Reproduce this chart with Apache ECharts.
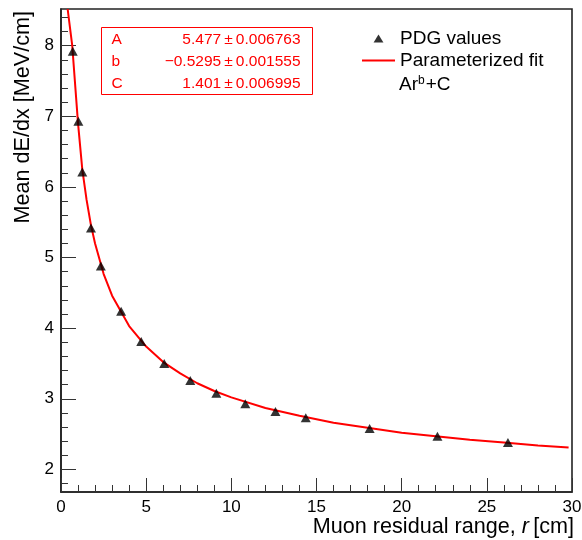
<!DOCTYPE html>
<html>
<head>
<meta charset="utf-8">
<script src="https://cdn.jsdelivr.net/npm/echarts@6/dist/echarts.min.js"></script>
<style>
html,body{margin:0;padding:0;background:#fff;}
#chart{width:582px;height:540px;}
</style>
</head>
<body>
<div id="chart"></div>
<script>
// ---- data ----
const rangeCm = [0.69, 1.02, 1.25, 1.76, 2.34, 3.53, 4.71, 6.06, 7.59, 9.12, 10.82, 12.59, 14.37, 18.12, 22.10, 26.24];
const dedxPDG = [7.92, 6.93, 6.21, 5.42, 4.88, 4.24, 3.81, 3.50, 3.26, 3.08, 2.93, 2.82, 2.73, 2.58, 2.47, 2.38];

const fitR = [0.39, 0.66, 1.0, 1.25, 1.5, 1.75, 2.0, 2.5, 3.0, 4.0, 5.0, 6.0, 7.0, 8.0, 9.0, 10.0, 12.0, 14.0, 16.0, 18.0, 20.0, 22.0, 24.0, 26.0, 28.0, 29.8];
const fitY = [8.52, 8.00, 6.90, 6.25, 5.82, 5.47, 5.20, 4.77, 4.46, 4.03, 3.74, 3.52, 3.36, 3.22, 3.11, 3.02, 2.87, 2.76, 2.66, 2.59, 2.52, 2.47, 2.42, 2.38, 2.34, 2.31];

const xTicks = [0, 5, 10, 15, 20, 25, 30];
const yTicks = [2, 3, 4, 5, 6, 7, 8];

const parNames = ['A', 'b', 'C'];
const parValues = ['5.477', '\u22120.5295', '1.401'];
const parErrors = ['0.006763', '0.001555', '0.006995'];

const seriesNames = ['PDG values', 'Parameterized fit'];

// ---- chart ----
const FONT = '"Liberation Sans", Arial, Helvetica, sans-serif';
const yMin = 1.68, yMax = 8.52;
const yMinor = [];
for (let k = Math.ceil(yMin * 5); k <= Math.floor(yMax * 5); k++) {
  if (k % 5 !== 0) yMinor.push(k / 5);
}

const scatterData = rangeCm.map((r, i) => [r, dedxPDG[i]]);
const fitData = fitR.map((r, i) => [r, fitY[i]]);

const statGraphics = [];
statGraphics.push({
  type: 'rect', z: 100,
  shape: {x: 101.5, y: 27.5, width: 211, height: 67},
  style: {fill: '#fff', stroke: '#ff0000', lineWidth: 1}
});
parNames.forEach((n, i) => {
  const yy = 39.5 + 22.2 * i;
  statGraphics.push({
    type: 'text', z: 101, x: 111.5, y: yy,
    style: {text: n, font: '15.5px ' + FONT, fill: '#ff0000',
      align: 'left', verticalAlign: 'middle', textAlign: 'left', textVerticalAlign: 'middle'}
  });
  statGraphics.push({
    type: 'text', z: 101, x: 300.5, y: yy,
    style: {text: parValues[i] + '\u2009\u00b1\u2009' + parErrors[i], font: '15.5px ' + FONT, fill: '#ff0000',
      align: 'right', verticalAlign: 'middle', textAlign: 'right', textVerticalAlign: 'middle'}
  });
});

const chart = echarts.init(document.getElementById('chart'), null, {renderer: 'canvas'});
chart.setOption({
  backgroundColor: '#fff',
  animation: false,
  grid: {left: 61, right: 10, top: 9, bottom: 48, containLabel: false, outerBoundsMode: 'none',
    show: true, borderColor: '#222', borderWidth: 1.6, backgroundColor: 'transparent'},
  xAxis: {
    type: 'value', min: 0, max: 30, interval: 5,
    axisLine: {onZero: false, lineStyle: {color: '#222', width: 1.6}},
    axisTick: {inside: true, length: 14, lineStyle: {color: '#333', width: 1}},
    minorTick: {show: true, splitNumber: 5, length: 7, lineStyle: {color: '#333', width: 1}},
    axisLabel: {fontSize: 17, fontFamily: FONT, color: '#000', margin: 7,
      formatter: v => (xTicks.indexOf(v) >= 0 ? String(v) : '')},
    splitLine: {show: false}
  },
  yAxis: [{
    type: 'value', min: yMin, max: yMax, position: 'left',
    axisLine: {onZero: false, lineStyle: {color: '#222', width: 1.6}},
    axisTick: {inside: true, length: 15, customValues: yTicks, lineStyle: {color: '#333', width: 1}},
    axisLabel: {fontSize: 17, fontFamily: FONT, color: '#000', margin: 7, customValues: yTicks},
    splitLine: {show: false}
  }, {
    type: 'value', min: yMin, max: yMax, position: 'left', offset: 0,
    axisLine: {show: false, onZero: false},
    axisTick: {inside: true, length: 7, customValues: yMinor, lineStyle: {color: '#333', width: 1}},
    axisLabel: {show: false},
    splitLine: {show: false}
  }],
  legend: {
    orient: 'vertical', left: 357, top: 24,
    itemWidth: 33, itemHeight: 8, itemGap: 3, itemTextGap: 9, selectedMode: false,
    symbolKeepAspect: true,
    textStyle: {fontSize: 19, fontFamily: FONT, color: '#000'},
    data: [
      {name: seriesNames[0], icon: 'path://M0,13 L8,0 L16,13 Z', itemStyle: {color: '#000'}},
      {name: seriesNames[1], icon: 'path://M0,0 L66,0 L66,4 L0,4 Z', itemStyle: {color: '#ff0000'}}
    ]
  },
  graphic: [{
    type: 'text', x: 23.5, y: 11, rotation: Math.PI / 2,
    style: {text: 'Mean dE/dx [MeV/cm]', font: '21.6px ' + FONT, fill: '#000',
      align: 'right', verticalAlign: 'middle', textAlign: 'right', textVerticalAlign: 'middle'}
  }, {
    type: 'text', x: 574, y: 527,
    style: {text: '{n|Muon residual range, }{i|r}{n|\u2009[cm]}', fill: '#000',
      align: 'right', verticalAlign: 'middle', textAlign: 'right', textVerticalAlign: 'middle',
      rich: {n: {fontSize: 21.6, fontFamily: FONT, color: '#000'},
             i: {fontSize: 21.6, fontFamily: FONT, color: '#000', fontStyle: 'italic'}}}
  }, {
    type: 'text', x: 399, y: 85,
    style: {text: '{n|Ar}{s|b}{n|+C}', fill: '#000', verticalAlign: 'middle', textVerticalAlign: 'middle',
      rich: {n: {fontSize: 19, fontFamily: FONT, color: '#000', lineHeight: 20},
             s: {fontSize: 12, fontFamily: FONT, color: '#000', verticalAlign: 'top', lineHeight: 12, padding: [0, 1, 0, 0]}}}
  }].concat(statGraphics),
  series: [{
    name: seriesNames[1], type: 'line', data: fitData, symbol: 'none', smooth: false,
    lineStyle: {color: '#ff0000', width: 2}, itemStyle: {color: '#ff0000'}, clip: true, z: 2
  }, {
    name: seriesNames[0], type: 'scatter', data: scatterData, symbol: 'triangle', symbolSize: [10, 9],
    itemStyle: {color: '#000'}, z: 3
  }]
});
</script>
</body>
</html>
